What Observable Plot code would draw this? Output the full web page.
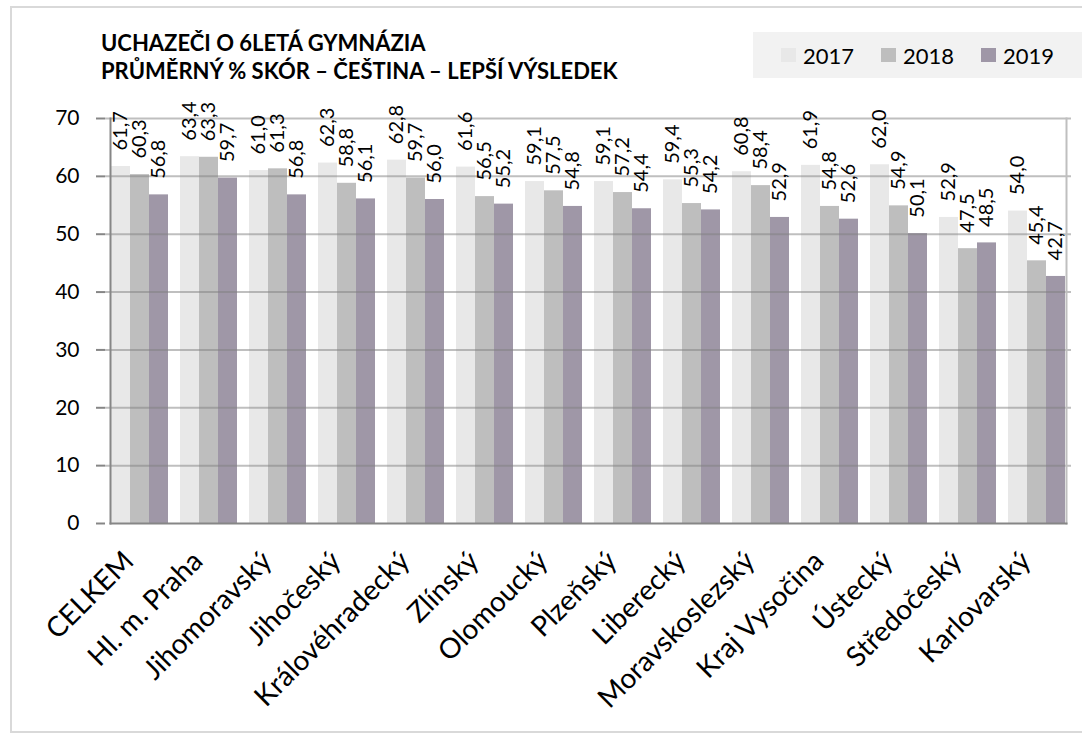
<!DOCTYPE html>
<html>
<head>
<meta charset="utf-8">
<script src="https://cdn.jsdelivr.net/npm/d3@7"></script>
<script src="https://cdn.jsdelivr.net/npm/@observablehq/plot@0.6"></script>
<style>
  html, body { margin: 0; padding: 0; background: #fff; }
  #wrap { position: relative; width: 1082px; height: 737px; overflow: hidden; font-family: Lato, sans-serif; }
  #border { position: absolute; left: 10px; top: 6px; width: 1090px; height: 727px; border: 2px solid #d9d9d9; box-sizing: border-box; }
  #title { position: absolute; left: 101px; top: 29px; font-weight: bold; font-size: 22px; line-height: 28px; color: #000; }
  #legend { position: absolute; left: 753px; top: 32px; width: 340px; height: 46px; background: #f2f2f2; display: flex; align-items: center; padding-left: 28px; box-sizing: border-box; font-size: 22px; color: #000; }
  .item { display: flex; align-items: center; margin-right: 27px; }
  .sw { width: 15px; height: 14px; margin-right: 7px; }
  #chart { position: absolute; left: 0; top: 0; }
</style>
</head>
<body>
<div id="wrap">
  <div id="border"></div>
  <div id="chart"></div>
  <div id="title"></div>
  <div id="legend"></div>
</div>
<script>
const titleLines = ["UCHAZEČI O 6LETÁ GYMNÁZIA", "PRŮMĚRNÝ % SKÓR – ČEŠTINA – LEPŠÍ VÝSLEDEK"];
const regions = ["CELKEM", "Hl. m. Praha", "Jihomoravský", "Jihočeský", "Královéhradecký", "Zlínský", "Olomoucký", "Plzeňský", "Liberecký", "Moravskoslezský", "Kraj Vysočina", "Ústecký", "Středočeský", "Karlovarský"];
const years = ["2017", "2018", "2019"];
const v2017 = [61.7, 63.4, 61.0, 62.3, 62.8, 61.6, 59.1, 59.1, 59.4, 60.8, 61.9, 62.0, 52.9, 54.0];
const v2018 = [60.3, 63.3, 61.3, 58.8, 59.7, 56.5, 57.5, 57.2, 55.3, 58.4, 54.8, 54.9, 47.5, 45.4];
const v2019 = [56.8, 59.7, 56.8, 56.1, 56.0, 55.2, 54.8, 54.4, 54.2, 52.9, 52.6, 50.1, 48.5, 42.7];
const yTicks = [0, 10, 20, 30, 40, 50, 60, 70];
const colors = ["#e8e8e8", "#bebebe", "#9f97a7"];

const series = [v2017, v2018, v2019];
const data = regions.flatMap((r, i) => years.map((y, j) => ({region: r, year: y, value: series[j][i]})));
const fmt = v => d3.format(".1f")(v).replace(".", ",");

document.getElementById("title").innerHTML = titleLines.join("<br>");
document.getElementById("legend").innerHTML = years.map((y, j) =>
  `<div class="item"><div class="sw" style="background:${colors[j]}"></div><span>${y}</span></div>`).join("");

const gap = 5; // half of the gap between region groups, so gridlines look continuous
const chart = Plot.plot({
  width: 1082,
  height: 737,
  marginTop: 118,
  marginBottom: 214,
  marginLeft: 99,
  marginRight: 5,
  style: {fontFamily: "Lato, sans-serif", background: "transparent", color: "#000", overflow: "visible"},
  fx: {domain: regions, paddingInner: 1/7, paddingOuter: 1/14, label: null},
  x: {domain: years, padding: 0, axis: null},
  y: {domain: [0, 70], label: null},
  color: {domain: years, range: colors},
  marks: [
    Plot.barY(data, {fx: "region", x: "year", y: "value", fill: "year"}),
    Plot.ruleY(yTicks.filter(d => d > 0), {stroke: "#7f7f7f", strokeOpacity: 0.5, strokeWidth: 2, insetLeft: -gap, insetRight: -gap}),
    Plot.frame({anchor: "right", facet: "super", stroke: "#bfbfbf", strokeWidth: 2}),
    Plot.frame({anchor: "bottom", facet: "super", stroke: "#868686", strokeWidth: 2}),
    Plot.frame({anchor: "left", facet: "super", stroke: "#868686", strokeWidth: 2}),
    Plot.axisY({ticks: yTicks, tickSize: 9, tickPadding: 17, fontSize: 21, stroke: "#868686", strokeWidth: 2, label: null, tickFormat: d => String(d), dx: -gap}),
    Plot.axisFx({anchor: "bottom", tickRotate: -45, tickSize: 0, tickPadding: 33, dx: -11, fontSize: 28, label: null}),
    Plot.text(data, {fx: "region", x: "year", y: "value", text: d => fmt(d.value), rotate: -90, textAnchor: "start", dy: -16, fontSize: 20, fill: "#000"})
  ]
});
document.getElementById("chart").appendChild(chart);
</script>
</body>
</html>
